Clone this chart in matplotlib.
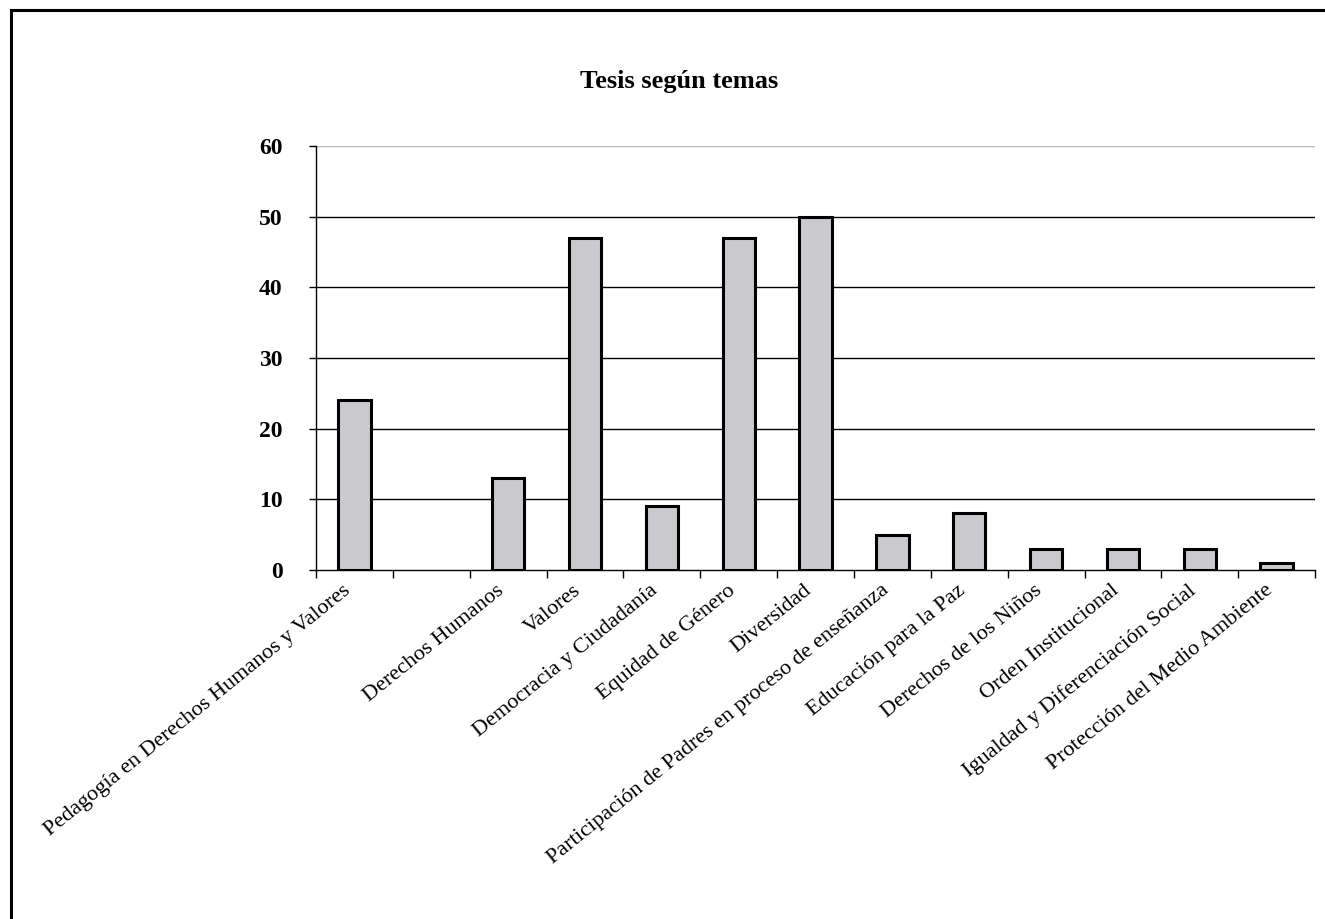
import matplotlib
matplotlib.use("Agg")
import matplotlib.pyplot as plt
from matplotlib.lines import Line2D
import numpy as np

# datos
temas = ["Pedagogía en Derechos Humanos y Valores", "", "Derechos Humanos",
         "Valores", "Democracia y Ciudadanía", "Equidad de Género", "Diversidad",
         "Participación de Padres en proceso de enseñanza", "Educación para la Paz",
         "Derechos de los Niños", "Orden Institucional",
         "Igualdad y Diferenciación Social", "Protección del Medio Ambiente"]
tesis = [24, np.nan, 13, 47, 9, 47, 50, 5, 8, 3, 3, 3, 1]
yticks = [0, 10, 20, 30, 40, 50, 60]
titulo = "Tesis según temas"

plt.rcParams['font.family'] = ['Liberation Serif', 'DejaVu Serif']

fig = plt.figure(figsize=(13.25, 9.19), dpi=100)
ax = fig.add_axes([0.2385, 0.3798, 0.754, 0.4613])

x = np.arange(len(temas)) + 0.5
ax.bar(x, tesis, width=0.42, color='#C9C9CE', edgecolor='black', linewidth=2.2, zorder=3)

ax.set_xlim(0, len(temas))
ax.set_ylim(0, 60)

# lineas de division
ax.set_yticks(yticks)
ax.set_yticklabels([str(v) for v in yticks], fontweight='bold', fontsize=17)
ax.tick_params(axis='y', direction='out', length=5, width=1, pad=19)
for v in yticks[1:]:
    ax.axhline(v, color='black' if v < 60 else '#BBBBBB', linewidth=1, zorder=1)

# ticks de categoria
ax.set_xticks(np.arange(len(temas) + 1))
ax.set_xticklabels([])
ax.tick_params(axis='x', which='major', direction='out', length=6, width=1)
ax.set_xticks(x, minor=True)
ax.set_xticklabels(temas, minor=True, rotation=39, ha='right', va='top', fontsize=16)
ax.tick_params(axis='x', which='minor', length=0, pad=8)

for s in ['top', 'right']:
    ax.spines[s].set_visible(False)
ax.spines['left'].set_linewidth(1)
ax.spines['bottom'].set_linewidth(1)

fig.text(0.5125, 0.911, titulo, ha='center', va='center', fontsize=19, fontweight='bold')

# marco
fig.add_artist(Line2D([0.0083, 1], [0.989, 0.989], color='black', linewidth=2.2))
fig.add_artist(Line2D([0.0083, 0.0083], [0, 0.989], color='black', linewidth=2.2))

fig.savefig("out.png", dpi=100)
